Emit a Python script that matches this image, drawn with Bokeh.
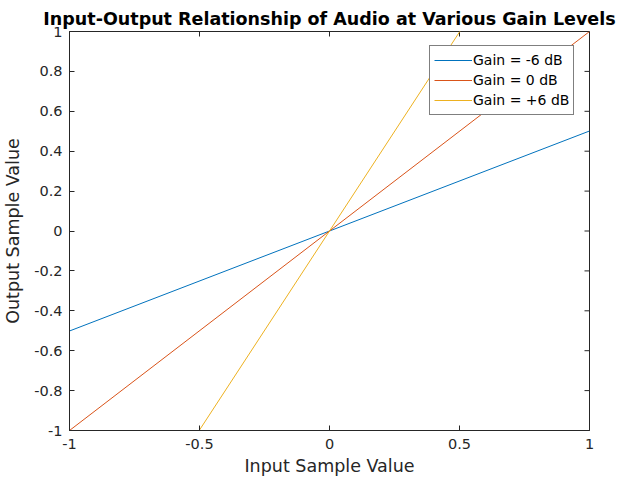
import math
from bokeh.plotting import figure
from bokeh.models import Range1d, Legend, LegendItem, FixedTicker
from bokeh.embed import file_html
from bokeh.resources import INLINE

# Data
x_input = [-1.0, 1.0]
gain_labels = ["Gain = -6 dB", "Gain = 0 dB", "Gain = +6 dB"]
gain_factors = [0.5012, 1.0, 1.9953]
colors = ["#0072BD", "#D95319", "#EDB120"]
x_ticks = [-1, -0.5, 0, 0.5, 1]
y_ticks = [-1, -0.8, -0.6, -0.4, -0.2, 0, 0.2, 0.4, 0.6, 0.8, 1]

FONT = "DejaVu Sans"
AX = "#262626"

p = figure(width=620, height=482, output_backend="svg", toolbar_location=None,
           x_range=Range1d(-1, 1), y_range=Range1d(-1, 1),
           min_border_left=69, min_border_right=31, min_border_top=31, min_border_bottom=52)

p.title.text = "Input-Output Relationship of Audio at Various Gain Levels"
p.title.text_font = FONT
p.title.text_font_size = "17.5px"
p.title.text_font_style = "bold"
p.title.align = "center"
p.title.text_color = "#000000"
p.title.standoff = 5

p.grid.visible = False
p.outline_line_color = AX
p.outline_line_width = 1

for ax in [p.xaxis[0], p.yaxis[0]]:
    ax.axis_line_color = AX
    ax.major_tick_line_color = AX
    ax.major_tick_in = 5
    ax.major_tick_out = 0
    ax.minor_tick_line_color = None
    ax.major_label_text_font = FONT
    ax.major_label_text_font_size = "14.5px"
    ax.major_label_text_color = AX
    ax.axis_label_text_font = FONT
    ax.axis_label_text_font_size = "17.5px"
    ax.axis_label_text_font_style = "normal"
    ax.axis_label_text_color = AX

p.xaxis.ticker = FixedTicker(ticks=x_ticks)
p.yaxis.ticker = FixedTicker(ticks=y_ticks)
p.xaxis.major_label_overrides = {t: ("%g" % t) for t in x_ticks}
p.yaxis.major_label_overrides = {t: ("%g" % t) for t in y_ticks}
p.xaxis.axis_label = "Input Sample Value"
p.yaxis.axis_label = "Output Sample Value"
p.xaxis.major_label_standoff = 8
p.yaxis.major_label_standoff = 7
p.xaxis.axis_label_standoff = 4
p.yaxis.axis_label_standoff = 8

# inward ticks on the top and right edges (box on)
p.ray(x=x_ticks, y=[1] * len(x_ticks), length=5, length_units="screen",
      angle=-math.pi / 2, line_color=AX, line_width=1)
p.ray(x=[1] * len(y_ticks), y=y_ticks, length=5, length_units="screen",
      angle=math.pi, line_color=AX, line_width=1)

items = []
for lab, g, c in zip(gain_labels, gain_factors, colors):
    r = p.line(x_input, [g * v for v in x_input], line_color=c, line_width=1)
    items.append(LegendItem(label=lab, renderers=[r]))

legend = Legend(items=items, location=(360, 315))
legend.label_text_font = FONT
legend.label_text_font_size = "14px"
legend.label_text_color = "#000000"
legend.border_line_color = "#000000"
legend.border_line_width = 1
legend.background_fill_alpha = 1
legend.glyph_width = 38
legend.glyph_height = 20
legend.label_height = 20
legend.spacing = 0
legend.padding = 4
legend.margin = 0
legend.label_standoff = 1
p.add_layout(legend, "center")

open("out.html", "w").write(file_html(p, INLINE))
